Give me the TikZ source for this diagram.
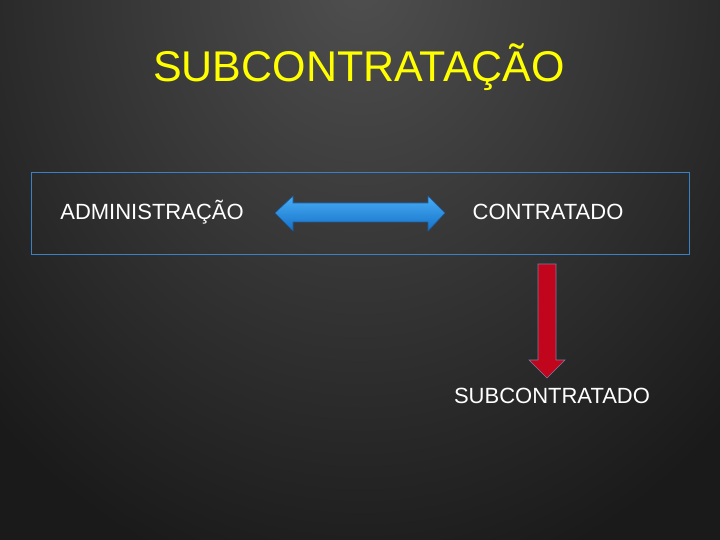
\documentclass[tikz,border=0pt]{standalone}
\usepackage{fontspec}
\setmainfont{Liberation Sans}
\usepackage{xcolor}
\usepackage{tikz}
\usetikzlibrary{calc}

\definecolor{bgin}{HTML}{4F4F4F}
\definecolor{bgout}{HTML}{1A1A1A}
\definecolor{titleyellow}{HTML}{FFFF00}
\definecolor{boxblue}{HTML}{3A80C4}
\definecolor{arrowtop}{HTML}{48AEF7}
\definecolor{arrowbot}{HTML}{1570C6}
\definecolor{arrowline}{HTML}{1B5C9E}
\definecolor{downred}{HTML}{C0051C}
\definecolor{downline}{HTML}{7C7CA2}

\tikzset{
	label text/.style={anchor=base,text=white,font=\fontsize{22}{26}\selectfont},
}

\begin{document}
\begin{tikzpicture}[x=1pt,y=-1pt]
	
	\useasboundingbox (0,0) rectangle (720,540);
	
	\begin{scope}
		\clip (0,0) rectangle (720,540);
		\fill [bgout] (0,0) rectangle (720,540);
		\shade [inner color=bgin,outer color=bgout] (360,-20) ellipse (520 and 620);
	\end{scope}
	
	\node [anchor=base,text=titleyellow,font=\fontsize{43}{49}\selectfont] (title) at (359,81.5) {SUBCONTRATAÇÃO};
	
	\draw [boxblue,line width=1pt] (31,173) rectangle (689,254);
	
	\node [label text] (admin) at (152,219) {ADMINISTRAÇÃO};
	
	\node [label text] (contratado) at (548,219) {CONTRATADO};
	
	\node [label text] (sub) at (552,403.5) {SUBCONTRATADO};
	
	% double arrow between the two parties
	\shade [top color=arrowtop,bottom color=arrowbot,draw=arrowline,line width=.6pt]
		(275,213) -- (293,196) -- (293,203) -- (428,203) -- (428,196) -- (445,213)
		-- (428,231) -- (428,222) -- (293,222) -- (293,231) -- cycle;
	
	% down arrow to the subcontractor
	\draw [fill=downred,draw=downline,line width=.6pt]
		(538,264) -- (556,264) -- (556,360) -- (565,360) -- (547,378)
		-- (529,360) -- (538,360) -- cycle;
	
\end{tikzpicture}
\end{document}
